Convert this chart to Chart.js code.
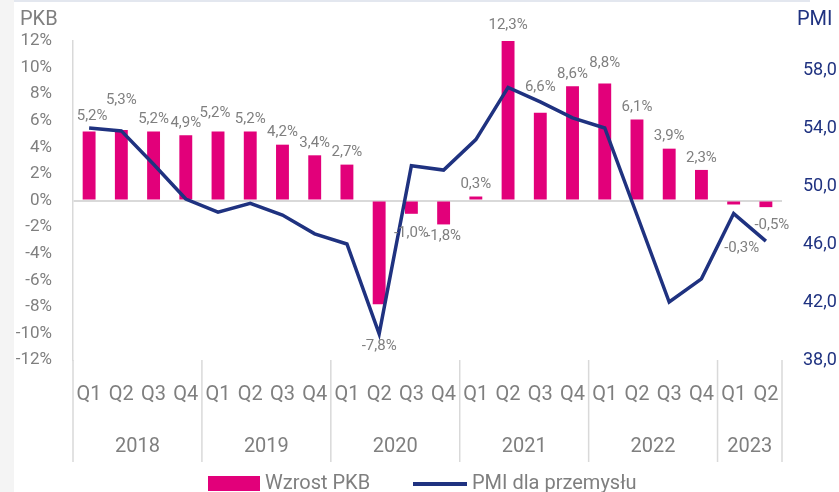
<!DOCTYPE html>
<html>
<head>
<meta charset="utf-8">
<script src="https://cdn.jsdelivr.net/npm/chart.js@4/dist/chart.umd.min.js"></script>
<style>
  html, body { margin: 0; padding: 0; background: #fff; }
  #wrap { position: relative; width: 839px; height: 492px; }
</style>
</head>
<body>
<div id="wrap"><canvas id="chart"></canvas></div>
<script>
// data
const years = ['2018', '2019', '2020', '2021', '2022', '2023'];
const quarters = ['Q1', 'Q2', 'Q3', 'Q4', 'Q1', 'Q2', 'Q3', 'Q4', 'Q1', 'Q2', 'Q3', 'Q4',
                  'Q1', 'Q2', 'Q3', 'Q4', 'Q1', 'Q2', 'Q3', 'Q4', 'Q1', 'Q2'];
const gdpGrowth = [5.2, 5.3, 5.2, 4.9, 5.2, 5.2, 4.2, 3.4, 2.7, -7.8, -1.0, -1.8,
                   0.3, 12.3, 6.6, 8.6, 8.8, 6.1, 3.9, 2.3, -0.3, -0.5];
const pmi = [54.0, 53.8, 51.5, 49.1, 48.2, 48.8, 48.0, 46.7, 46.0, 39.8, 51.4, 51.1,
             53.2, 56.8, 55.8, 54.7, 54.0, 48.0, 42.0, 43.6, 48.1, 46.2];
const pkbTicks = [-12, -10, -8, -6, -4, -2, 0, 2, 4, 6, 8, 10, 12];
const pmiTicks = [38, 42, 46, 50, 54, 58];

const MAGENTA = '#E2007A';
const NAVY = '#1F3280';
const GREY = '#7f7f7f';
const RULE = '#d9d9d9';
const FONT = 'Roboto, "Liberation Sans", sans-serif';

// small hand nudges for the value labels (x, y in px), as in the source
const labelNudge = { 0: [3, -3], 1: [0, -18], 4: [-3, -6], 9: [0, 30], 10: [0, 7],
                     14: [0, -14], 16: [0, -8], 20: [8, 32], 21: [6, 6] };

const fmt = (v, d) => v.toFixed(d).replace('.', ',');

const decorations = {
    id: 'decorations',
    beforeDraw(chart) {
        const c = chart.ctx;
        c.save();
        c.fillStyle = '#f4f4f4';
        c.fillRect(0, 0, 14, chart.height);
        c.fillStyle = '#e3e7ef';
        c.fillRect(14, 0, 796, 2);
        c.restore();
    },
    afterDatasetsDraw(chart) {
        const c = chart.ctx;
        const x = chart.scales.x;
        const area = chart.chartArea;
        const w = (area.right - area.left) / quarters.length;
        c.save();

        // value labels over / under the bars
        c.font = '15px ' + FONT;
        c.fillStyle = GREY;
        c.textAlign = 'center';
        c.textBaseline = 'middle';
        chart.getDatasetMeta(0).data.forEach((bar, i) => {
            const v = gdpGrowth[i];
            const n = labelNudge[i] || [0, 0];
            const y = v >= 0 ? bar.y - 12 : bar.y + 12;
            c.fillText(fmt(v, 1) + '%', bar.x + n[0], y + n[1]);
        });

        // quarter + year category labels
        c.font = '20px ' + FONT;
        quarters.forEach((q, i) => c.fillText(q, x.getPixelForValue(i), 395));
        years.forEach((yr, k) => {
            const first = k * 4;
            const last = Math.min(first + 3, quarters.length - 1);
            c.fillText(yr, (x.getPixelForValue(first) + x.getPixelForValue(last)) / 2, 447);
        });

        // group dividers
        c.strokeStyle = RULE;
        c.lineWidth = 1.5;
        const edges = [0, 4, 8, 12, 16, 20, quarters.length];
        edges.forEach(e => {
            const px = area.left + e * w;
            c.beginPath();
            c.moveTo(px, area.bottom);
            c.lineTo(px, 462);
            c.stroke();
        });

        // axis titles
        c.font = '20px ' + FONT;
        c.textAlign = 'left';
        c.fillStyle = GREY;
        c.fillText('PKB', 20, 20);
        c.fillStyle = NAVY;
        c.fillText('PMI', 797, 20);

        // legend
        c.fillStyle = MAGENTA;
        c.fillRect(208, 476, 52, 15);
        c.fillStyle = GREY;
        c.fillText(chart.data.datasets[0].label, 265, 484);
        c.strokeStyle = NAVY;
        c.lineWidth = 4;
        c.beginPath();
        c.moveTo(413, 484);
        c.lineTo(467, 484);
        c.stroke();
        c.fillText(chart.data.datasets[1].label, 472, 484);

        c.restore();
    }
};

const chart = new Chart(document.getElementById('chart'), {
    type: 'bar',
    data: {
        labels: quarters.map((q, i) => q + ' ' + years[Math.floor(i / 4)]),
        datasets: [
            {
                type: 'bar',
                label: 'Wzrost PKB',
                data: gdpGrowth,
                backgroundColor: MAGENTA,
                barPercentage: 0.4,
                categoryPercentage: 1.0,
                yAxisID: 'y',
                order: 1
            },
            {
                type: 'line',
                label: 'PMI dla przemysłu',
                data: pmi,
                borderColor: NAVY,
                borderWidth: 3.5,
                pointRadius: 0,
                tension: 0,
                fill: false,
                yAxisID: 'y1',
                order: 0
            }
        ]
    },
    options: {
        responsive: true,
        maintainAspectRatio: false,
        animation: false,
        layout: { padding: { top: 41, bottom: 132, left: 0, right: 0 } },
        plugins: { legend: { display: false }, tooltip: { enabled: false } },
        scales: {
            x: { display: false },
            y: {
                position: 'left',
                min: -12,
                max: 12,
                afterFit: s => { s.width = 73; },
                afterBuildTicks: s => { s.ticks = pkbTicks.map(v => ({ value: v })); },
                ticks: {
                    padding: 21,
                    color: GREY,
                    font: { family: FONT, size: 17 },
                    callback: v => v + '%'
                },
                grid: {
                    drawTicks: false,
                    lineWidth: 2,
                    color: ctx => ctx.tick && ctx.tick.value === 0 ? RULE : 'transparent'
                },
                border: { display: true, color: RULE, width: 1.5 }
            },
            y1: {
                position: 'right',
                min: 38,
                max: 60,
                afterFit: s => { s.width = 57; },
                afterBuildTicks: s => { s.ticks = pmiTicks.map(v => ({ value: v })); },
                ticks: {
                    padding: 21,
                    color: NAVY,
                    font: { family: FONT, size: 18 },
                    callback: v => fmt(v, 1)
                },
                grid: { display: false, drawTicks: false },
                border: { display: false }
            }
        }
    },
    plugins: [decorations]
});
</script>
</body>
</html>
